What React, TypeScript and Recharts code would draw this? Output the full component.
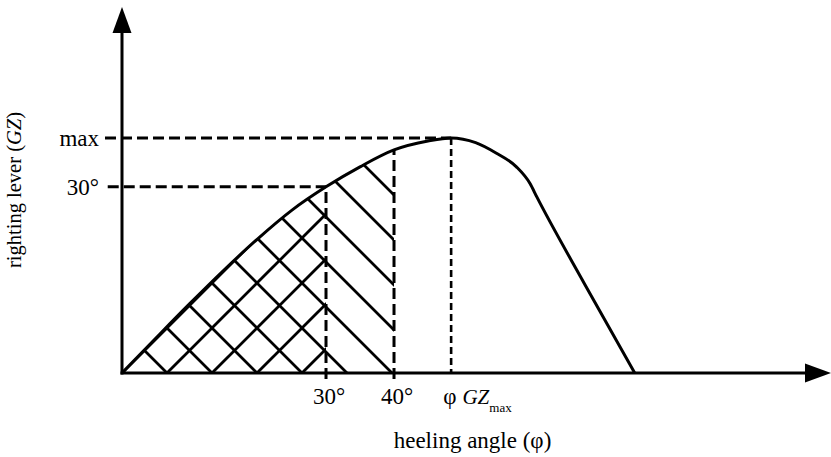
import React from 'react';
import { ComposedChart, Area, Line, XAxis, YAxis, ReferenceLine } from 'recharts';

// Heeling angle (degrees) and righting lever GZ (relative to its maximum)
const angles = [0, 5, 10, 15, 20, 25, 30, 35, 40, 45, 48.4, 52, 55, 58, 60, 61, 68, 75.4];
const gzValues = [0, 0.149, 0.296, 0.438, 0.572, 0.693, 0.792, 0.877, 0.949, 0.987, 1.0, 0.98, 0.936, 0.877, 0.806, 0.749, 0.38, 0];

const phiGzMax = 48.4;
const gzMax = 1.0;
const gzAt30 = gzValues[angles.indexOf(30)];
const gzAt40 = gzValues[angles.indexOf(40)];

const xTicks = [30, 40, phiGzMax];
const xTickLabels = ['30°', '40°', 'φ'];
const yTicks = [gzAt30, gzMax];
const yTickLabels = ['30°', 'max'];

const X_MAX = 104.26;
const Y_MAX = 1.557;

const WIDTH = 831;
const HEIGHT = 457;
const MARGIN = { top: 7, right: 0, left: 0, bottom: 0 };
const Y_AXIS_W = 122;
const X_AXIS_H = 84;
const ORIGIN_X = MARGIN.left + Y_AXIS_W;
const ORIGIN_Y = HEIGHT - MARGIN.bottom - X_AXIS_H;
const HATCH = 45;

const FONT = '"Liberation Serif", "Times New Roman", Times, serif';

const data = angles.map((a, i) => ({
  angle: a,
  gz: gzValues[i],
  cross: a <= 30 ? gzValues[i] : null,
  single: a >= 30 && a <= 40 ? gzValues[i] : null,
}));

// axis line with a filled arrow head at its far end
const ArrowAxis = (props: any) => {
  const { x1, y1, x2, y2 } = props;
  const dx = x2 - x1;
  const dy = y2 - y1;
  const len = Math.hypot(dx, dy) || 1;
  const ux = dx / len;
  const uy = dy / len;
  const headLen = 26;
  const headHalf = 9.5;
  const bx = x2 - ux * headLen;
  const by = y2 - uy * headLen;
  const px = -uy;
  const py = ux;
  return (
    <g>
      <line x1={x1 - ux * 1.5} y1={y1 - uy * 1.5} x2={bx + ux * 2} y2={by + uy * 2} stroke="#000" strokeWidth={3} />
      <polygon
        points={`${x2},${y2} ${bx + px * headHalf},${by + py * headHalf} ${bx - px * headHalf},${by - py * headHalf}`}
        fill="#000"
      />
    </g>
  );
};

const XTick = (props: any) => {
  const { x, y, payload } = props;
  const idx = xTicks.indexOf(payload.value);
  const baseY = y + 31;
  if (payload.value === phiGzMax) {
    return (
      <text x={x - 8} y={baseY} fontFamily={FONT} fontSize={23} fill="#000" textAnchor="start">
        <tspan>{xTickLabels[idx]}</tspan>
        <tspan dx={6} fontStyle="italic" fontSize={21}>GZ</tspan>
        <tspan fontSize={13} dy={8}>max</tspan>
      </text>
    );
  }
  return (
    <text x={x + 3} y={baseY} fontFamily={FONT} fontSize={23} fill="#000" textAnchor="middle">
      {xTickLabels[idx]}
    </text>
  );
};

const YTick = (props: any) => {
  const { x, y, payload } = props;
  const idx = yTicks.indexOf(payload.value);
  return (
    <text x={x - 23} y={y + 8} fontFamily={FONT} fontSize={23} fill="#000" textAnchor="end">
      {yTickLabels[idx]}
    </text>
  );
};

const YLabel = (props: any) => {
  const vb = props.viewBox || { x: 0, y: MARGIN.top, width: Y_AXIS_W, height: ORIGIN_Y - MARGIN.top };
  const cx = vb.x + 21;
  const cy = vb.y + vb.height / 2;
  return (
    <text
      x={cx}
      y={cy}
      transform={`rotate(-90 ${cx} ${cy})`}
      fontFamily={FONT}
      fontSize={20.5}
      fill="#000"
      textAnchor="middle"
    >
      righting lever (<tspan fontStyle="italic">GZ</tspan>)
    </text>
  );
};

const XLabel = (props: any) => {
  const vb = props.viewBox || { x: ORIGIN_X, y: ORIGIN_Y, width: WIDTH - ORIGIN_X, height: X_AXIS_H };
  const cx = vb.x + vb.width / 2 - 4;
  const cy = vb.y + 75;
  return (
    <text x={cx} y={cy} fontFamily={FONT} fontSize={23} fill="#000" textAnchor="middle">
      heeling angle (φ)
    </text>
  );
};

export default function App() {
  return (
    <div style={{ position: 'absolute', left: 0, top: 0, width: WIDTH, height: HEIGHT, background: '#fff' }}>
      <ComposedChart width={WIDTH} height={HEIGHT} data={data} margin={MARGIN}>
        <defs>
          <pattern id="hatchCross" patternUnits="userSpaceOnUse" x={ORIGIN_X} y={ORIGIN_Y} width={HATCH} height={HATCH}>
            <path
              d={`M-5,-5 L${HATCH + 5},${HATCH + 5} M-5,${HATCH - 5} L5,${HATCH + 5} M${HATCH - 5},-5 L${HATCH + 5},5 M-5,${HATCH + 5} L${HATCH + 5},-5 M-5,5 L5,-5 M${HATCH - 5},${HATCH + 5} L${HATCH + 5},${HATCH - 5}`}
              stroke="#000"
              strokeWidth={2.8}
              fill="none"
            />
          </pattern>
          <pattern id="hatchSingle" patternUnits="userSpaceOnUse" x={ORIGIN_X} y={ORIGIN_Y} width={HATCH} height={HATCH}>
            <path
              d={`M-5,-5 L${HATCH + 5},${HATCH + 5} M-5,${HATCH - 5} L5,${HATCH + 5} M${HATCH - 5},-5 L${HATCH + 5},5`}
              stroke="#000"
              strokeWidth={2.8}
              fill="none"
            />
          </pattern>
        </defs>
        <XAxis
          type="number"
          dataKey="angle"
          domain={[0, X_MAX]}
          allowDataOverflow
          ticks={xTicks}
          interval={0}
          axisLine={false}
          tickLine={false}
          tickSize={0}
          tickMargin={0}
          height={X_AXIS_H}
          tick={<XTick />}
          label={{ content: <XLabel /> }}
        />
        <YAxis
          type="number"
          domain={[0, Y_MAX]}
          allowDataOverflow
          ticks={yTicks}
          interval={0}
          axisLine={false}
          tickLine={false}
          tickSize={0}
          tickMargin={0}
          width={Y_AXIS_W}
          tick={<YTick />}
          label={{ content: <YLabel /> }}
        />
        <Area
          dataKey="cross"
          type="monotone"
          stroke="none"
          fill="url(#hatchCross)"
          fillOpacity={1}
          connectNulls={false}
          dot={false}
          activeDot={false}
          isAnimationActive={false}
        />
        <Area
          dataKey="single"
          type="monotone"
          stroke="none"
          fill="url(#hatchSingle)"
          fillOpacity={1}
          connectNulls={false}
          dot={false}
          activeDot={false}
          isAnimationActive={false}
        />
        <ReferenceLine
          segment={[{ x: -2.5, y: gzMax }, { x: phiGzMax, y: gzMax }]}
          stroke="#000"
          strokeWidth={3}
          strokeDasharray="11 5"
          ifOverflow="visible"
        />
        <ReferenceLine
          segment={[{ x: -2.1, y: gzAt30 }, { x: 30, y: gzAt30 }]}
          stroke="#000"
          strokeWidth={3}
          strokeDasharray="11 5"
          ifOverflow="visible"
        />
        <ReferenceLine
          segment={[{ x: 30, y: -0.026 }, { x: 30, y: gzAt30 }]}
          stroke="#000"
          strokeWidth={3}
          strokeDasharray="11 5"
          ifOverflow="visible"
        />
        <ReferenceLine
          segment={[{ x: 40, y: -0.026 }, { x: 40, y: gzAt40 }]}
          stroke="#000"
          strokeWidth={3}
          strokeDasharray="11 5"
          ifOverflow="visible"
        />
        <ReferenceLine
          segment={[{ x: phiGzMax, y: gzMax }, { x: phiGzMax, y: 0 }]}
          stroke="#000"
          strokeWidth={2.6}
          strokeDasharray="7 4"
          ifOverflow="visible"
        />
        <Line
          dataKey="gz"
          type="monotone"
          stroke="#000"
          strokeWidth={3}
          strokeLinejoin="round"
          dot={false}
          activeDot={false}
          isAnimationActive={false}
        />
        <ReferenceLine
          segment={[{ x: 0, y: 0 }, { x: 0, y: Y_MAX }]}
          ifOverflow="visible"
          shape={(p: any) => <ArrowAxis {...p} />}
        />
        <ReferenceLine
          segment={[{ x: 0, y: 0 }, { x: X_MAX, y: 0 }]}
          ifOverflow="visible"
          shape={(p: any) => <ArrowAxis {...p} />}
        />
      </ComposedChart>
    </div>
  );
}
